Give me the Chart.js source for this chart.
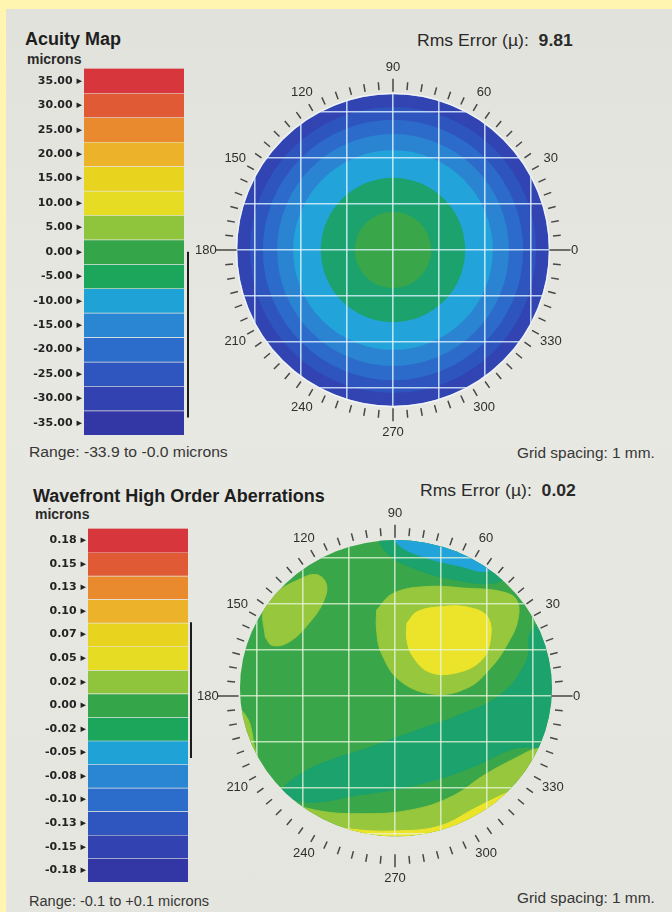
<!DOCTYPE html>
<html>
<head>
<meta charset="utf-8">
<script src="https://cdn.jsdelivr.net/npm/chart.js@4.4.1/dist/chart.umd.min.js"></script>
<style>
  html, body { margin: 0; padding: 0; }
  body { width: 672px; height: 912px; background: #fff5b0; position: relative; overflow: hidden;
         font-family: "Liberation Sans", Arial, sans-serif; color: #262626; }
  #paper { position: absolute; left: 6px; top: 9px; right: 0; bottom: 0;
           background: linear-gradient(180deg, #e2e2dc 0%, #e8e8e2 45%, #e5e5df 100%); }
  .t { position: absolute; white-space: nowrap; line-height: 1; transform-origin: 0 0; }
  .title { font-weight: bold; font-size: 18px; color: #1e1e1e; }
  .unit { font-weight: bold; font-size: 14px; color: #2a2a2a; }
  .rms { font-size: 16px; color: #2a2a2a; transform: scaleX(1.1); }
  .small { font-size: 14px; color: #363636; }
  canvas { position: absolute; }
</style>
</head>
<body>
<div id="paper"></div>

<div class="t title" style="left:25px;top:30px">Acuity Map</div>
<div class="t unit" style="left:27px;top:52px">microns</div>
<div class="t rms" style="left:417px;top:33px">Rms Error (µ):&nbsp; <b>9.81</b></div>
<div class="t small" style="left:29px;top:445px;transform:scaleX(1.12)">Range: -33.9 to -0.0 microns</div>
<div class="t small" style="left:517px;top:446px;transform:scaleX(1.1)">Grid spacing: 1 mm.</div>

<div class="t title" style="left:33px;top:487px">Wavefront High Order Aberrations</div>
<div class="t rms" style="left:420px;top:483px">Rms Error (µ):&nbsp; <b>0.02</b></div>
<div class="t unit" style="left:35px;top:507px">microns</div>
<div class="t small" style="left:29px;top:894px;transform:scaleX(1.04)">Range: -0.1 to +0.1 microns</div>
<div class="t small" style="left:517px;top:891px;transform:scaleX(1.1)">Grid spacing: 1 mm.</div>

<canvas id="acuityBar" width="180" height="385" style="left:20px;top:60px"></canvas>
<canvas id="acuityMap" width="450" height="390" style="left:168px;top:55px"></canvas>
<canvas id="hoaBar" width="180" height="372" style="left:24px;top:520px"></canvas>
<canvas id="hoaMap" width="450" height="390" style="left:170px;top:501px"></canvas>

<script>
// ---- colour scale levels (band centres) and their printed labels
const acuityLevels = [35, 30, 25, 20, 15, 10, 5, 0, -5, -10, -15, -20, -25, -30, -35];
const acuityLabels = ['35.00', '30.00', '25.00', '20.00', '15.00', '10.00', '5.00', '0.00',
                      '-5.00', '-10.00', '-15.00', '-20.00', '-25.00', '-30.00', '-35.00'];
const acuityRange = [-33.9, -0.0];

const hoaLevels = [0.175, 0.15, 0.125, 0.1, 0.075, 0.05, 0.025, 0, -0.025, -0.05, -0.075, -0.1, -0.125, -0.15, -0.175];
const hoaLabels = ['0.18', '0.15', '0.13', '0.10', '0.07', '0.05', '0.02', '0.00',
                   '-0.02', '-0.05', '-0.08', '-0.10', '-0.13', '-0.15', '-0.18'];
const hoaRange = [-0.056, 0.088];

// bar colours, and the slightly different print tones of the same bands inside the maps
const PALETTE = ['#d7363d', '#e05b35', '#e98a2e', '#ecb229', '#e8d31f', '#e6dc24', '#8fc53d', '#35a549',
                 '#1ba65c', '#1fa2d6', '#2a86d3', '#2c6dcb', '#2f55be', '#3242b0', '#3337a6'];
const MAP_PALETTE = ['#d7363d', '#e05b35', '#e98a2e', '#ecb229', '#e8d31f', '#ece42a', '#96c73c', '#3aa64a',
                     '#1ca26c', '#22a4da', '#2a84d2', '#2c6bca', '#2e54bd', '#3144b2', '#3337a6'];

// ---- acuity map: concentric zones (outer radius in mm, level)
const acuityRingRadius = [3.11, 2.83, 2.52, 2.17, 1.57, 0.83];
const acuityRingLevel  = [-25, -20, -15, -10, -5, 0];
const acuityPupil = { cx: 0, cy: 0, rx: 3.39, ry: 3.39, level: -30 };

// ---- high order map: contour zones (mm, x right / y up), listed back to front
const hoaPupil = { cx: 0.02, cy: 0.17, rx: 3.39, ry: 3.22, level: 0 };
const hoaDiagonalTeal = [[3.63, 1.87], [2.97, 1.43], [2.86, 0.77], [2.31, 0.04], [1.43, -0.40], [0.40, -0.77],
  [-0.62, -1.14], [-1.50, -1.43], [-2.09, -1.72], [-2.45, -2.09], [-1.87, -2.31], [-0.84, -2.16],
  [0.11, -2.01], [0.99, -1.79], [1.79, -1.50], [2.60, -1.14], [3.63, -0.99]];
const hoaTopTeal = [[0.11, 3.99], [-0.33, 3.55], [-0.18, 3.11], [0.48, 2.75], [1.28, 2.53], [2.09, 2.45],
  [2.53, 2.67], [2.75, 3.19], [2.31, 3.85]];
const hoaTopCyan = [[0.84, 3.85], [-0.04, 3.55], [0.11, 3.26], [0.70, 3.00], [1.43, 2.82], [1.94, 2.71],
  [2.23, 2.86], [2.16, 3.41]];
const hoaLowerGreenYellow = [[-3.85, -3.77], [-3.85, -0.11], [-3.26, -0.40], [-3.00, -1.28], [-2.62, -2.09],
  [-1.87, -2.45], [-0.62, -2.56], [0.48, -2.45], [1.28, -2.16], [1.94, -1.72], [2.60, -1.36],
  [3.11, -1.14], [3.77, -1.14], [3.77, -3.77]];
const hoaLowerYellow = [[-3.85, -3.77], [-3.85, -0.77], [-3.30, -0.99], [-3.11, -1.94], [-2.45, -2.64],
  [-0.99, -2.89], [0.11, -2.93], [0.99, -2.82], [1.72, -2.45], [2.31, -2.16], [2.82, -1.94],
  [3.33, -1.72], [3.77, -1.72], [3.77, -3.77]];
const hoaUpperLeftBlob = [[-2.82, 1.28], [-2.86, 1.87], [-2.60, 2.23], [-2.09, 2.53], [-1.72, 2.64],
  [-1.50, 2.45], [-1.54, 2.09], [-1.87, 1.58], [-2.31, 1.17], [-2.67, 1.10]];
const hoaRightOuter = [[-0.40, 1.87], [-0.04, 2.23], [0.70, 2.38], [1.58, 2.34], [2.31, 2.27], [2.64, 2.09],
  [2.67, 1.65], [2.45, 1.14], [2.09, 0.62], [1.58, 0.18], [0.84, 0.04], [0.11, 0.33], [-0.29, 0.92], [-0.40, 1.43]];
const hoaRightInner = [[0.26, 1.58], [0.48, 1.83], [0.99, 1.94], [1.58, 1.93], [2.01, 1.72], [2.07, 1.21],
  [1.87, 0.77], [1.36, 0.51], [0.77, 0.51], [0.40, 0.84], [0.26, 1.21]];

const hoaZones = [
  { pts: hoaDiagonalTeal, level: -0.025 },
  { pts: hoaTopTeal, level: -0.025 },
  { pts: hoaTopCyan, level: -0.05 },
  { pts: hoaLowerGreenYellow, level: 0.025 },
  { pts: hoaLowerYellow, level: 0.05 },
  { pts: hoaUpperLeftBlob, level: 0.025 },
  { pts: hoaRightOuter, level: 0.025 },
  { pts: hoaRightInner, level: 0.05 },
];

const gridMm = [-3, -2, -1, 0, 1, 2, 3];
const angleLabels = [0, 30, 60, 90, 120, 150, 180, 210, 240, 270, 300, 330];
const ringTickStep = 5;
const VIEW_X = 4.891, VIEW_Y = 4.239;   // half extents of a map canvas in mm

const mapColor = (levels, v) => MAP_PALETTE[levels.indexOf(v)];

// vertical range marker right of the colour bar
const rangeBarPlugin = {
  id: 'rangeBar',
  afterDraw(chart, args, o) {
    const { ctx, chartArea, scales: { y } } = chart;
    const x = chartArea.right + o.gap;
    ctx.save();
    ctx.strokeStyle = '#1c1c1c';
    ctx.lineWidth = 2;
    ctx.beginPath();
    ctx.moveTo(x, y.getPixelForValue(o.max));
    ctx.lineTo(x, y.getPixelForValue(o.min));
    ctx.stroke();
    ctx.restore();
  }
};

function colorBar(id, levels, labels, range, gap) {
  const step = Math.abs(levels[0] - levels[1]);
  return new Chart(document.getElementById(id), {
    type: 'bar',
    data: {
      labels: [''],
      datasets: levels.map((v, i) => ({
        data: [[v - step / 2, v + step / 2]],
        backgroundColor: PALETTE[i],
        borderColor: 'rgba(236,236,230,0.5)',
        borderWidth: { top: i === 0 ? 0 : 1, bottom: 0, left: 0, right: 0 },
        borderSkipped: false,
        grouped: false,
        barPercentage: 1,
        categoryPercentage: 1,
      })),
    },
    options: {
      responsive: false, animation: false, events: [],
      layout: { padding: { top: 8, bottom: 10, right: 16, left: 0 } },
      plugins: { legend: { display: false }, tooltip: { enabled: false },
                 rangeBar: { min: range[0], max: range[1], gap } },
      scales: {
        x: { display: false },
        y: {
          min: levels[levels.length - 1] - step / 2,
          max: levels[0] + step / 2,
          grid: { display: false, drawTicks: false },
          border: { display: false },
          afterBuildTicks: s => { s.ticks = levels.map(v => ({ value: v })); },
          afterFit: s => { s.width = 64; },
          ticks: {
            autoSkip: false, padding: 2, color: '#232323',
            font: { family: 'DejaVu Sans', weight: 'bold', size: 11 },
            callback: (v, i) => labels[i] + ' \u25B8',
          },
        },
      },
    },
    plugins: [rangeBarPlugin],
  });
}

// pupil clip + base colour, then polar tick ring and angle labels
const mapFramePlugin = {
  id: 'mapFrame',
  beforeDatasetsDraw(chart, args, o) {
    const { ctx, scales: { x, y } } = chart;
    const p = o.pupil;
    const cx = x.getPixelForValue(p.cx), cy = y.getPixelForValue(p.cy);
    const rx = x.getPixelForValue(p.cx + p.rx) - cx, ry = cy - y.getPixelForValue(p.cy + p.ry);
    ctx.save();
    ctx.beginPath();
    ctx.ellipse(cx, cy, rx, ry, 0, 0, Math.PI * 2);
    ctx.clip();
    ctx.fillStyle = o.base;
    ctx.fillRect(cx - rx - 2, cy - ry - 2, 2 * rx + 4, 2 * ry + 4);
  },
  afterDraw(chart, args, o) {
    const { ctx, scales: { x, y } } = chart;
    ctx.restore();
    const p = o.pupil;
    const pcx = x.getPixelForValue(p.cx), pcy = y.getPixelForValue(p.cy);
    const prx = x.getPixelForValue(p.cx + p.rx) - pcx, pry = pcy - y.getPixelForValue(p.cy + p.ry);
    if (o.rim) {
      ctx.save();
      ctx.strokeStyle = o.rim;
      ctx.lineWidth = 1.5;
      ctx.beginPath();
      ctx.ellipse(pcx, pcy, prx + 0.5, pry + 0.5, 0, 0, Math.PI * 2);
      ctx.stroke();
      ctx.restore();
    }
    const cx = x.getPixelForValue(0), cy = y.getPixelForValue(0);
    const k = x.getPixelForValue(1) - cx;
    ctx.save();
    ctx.strokeStyle = '#474747';
    ctx.lineWidth = 1.5;
    ctx.beginPath();
    for (let a = 0; a < 360; a += ringTickStep) {
      const t = a * Math.PI / 180;
      let r0 = 3.49, r1 = 3.66;
      if (a % 180 === 0) { r0 = 3.40; r1 = 3.86; }
      else if (a % 90 === 0) { r0 = 3.44; r1 = 3.72; }
      ctx.moveTo(cx + r0 * k * Math.cos(t), cy - r0 * k * Math.sin(t));
      ctx.lineTo(cx + r1 * k * Math.cos(t), cy - r1 * k * Math.sin(t));
    }
    ctx.stroke();
    ctx.fillStyle = '#2e2e2e';
    ctx.font = '13px "Liberation Sans", Arial, sans-serif';
    ctx.textAlign = 'center';
    ctx.textBaseline = 'middle';
    angleLabels.forEach(a => {
      const t = a * Math.PI / 180;
      const r = (a === 180 ? 4.07 : a === 0 ? 3.95 : 3.96) * k;
      ctx.fillText(String(a), cx + r * Math.cos(t), cy - r * Math.sin(t));
    });
    ctx.restore();
  }
};

function mapScales(gridColor) {
  const axis = (view) => ({
    type: 'linear', min: -view, max: view,
    afterBuildTicks: s => { s.ticks = gridMm.map(v => ({ value: v })); },
    grid: { color: gridColor, lineWidth: 1.6, drawTicks: false, z: 1 },
    border: { display: false },
    ticks: { display: false },
  });
  return { x: axis(VIEW_X), y: axis(VIEW_Y) };
}

// acuity map: one point per zone, sized through the x scale
new Chart(document.getElementById('acuityMap'), {
  type: 'scatter',
  data: {
    datasets: [{
      data: acuityRingRadius.map(() => ({ x: 0, y: 0 })),
      pointRadius: c => {
        const s = c.chart.scales.x;
        return s.getPixelForValue(acuityRingRadius[c.dataIndex]) - s.getPixelForValue(0);
      },
      pointBackgroundColor: c => mapColor(acuityLevels, acuityRingLevel[c.dataIndex]),
      pointBorderWidth: 0,
      pointBorderColor: 'rgba(0,0,0,0)',
    }],
  },
  options: {
    responsive: false, animation: false, events: [],
    plugins: { legend: { display: false }, tooltip: { enabled: false },
               mapFrame: { pupil: acuityPupil, base: mapColor(acuityLevels, acuityPupil.level), rim: 'rgba(245,250,255,0.75)' } },
    scales: mapScales('rgba(225,244,255,0.8)'),
  },
  plugins: [mapFramePlugin],
});

// high order aberration map: closed contour zones
new Chart(document.getElementById('hoaMap'), {
  type: 'scatter',
  data: {
    datasets: hoaZones.map((z, i) => {
      const pts = z.pts.map(([x, y]) => ({ x, y }));
      pts.push({ ...pts[0] });
      const col = mapColor(hoaLevels, z.level);
      return {
        type: 'line',
        order: hoaZones.length - i,   // chart.js paints higher order first
        data: pts,
        backgroundColor: col,
        borderColor: col,
        borderWidth: 1,
        fill: 'shape',
        tension: 0.4,
        pointRadius: 0,
      };
    }),
  },
  options: {
    responsive: false, animation: false, events: [],
    plugins: { legend: { display: false }, tooltip: { enabled: false },
               mapFrame: { pupil: hoaPupil, base: mapColor(hoaLevels, hoaPupil.level), rim: null } },
    scales: mapScales('rgba(232,246,220,0.75)'),
  },
  plugins: [mapFramePlugin],
});

colorBar('acuityBar', acuityLevels, acuityLabels, acuityRange, 4);
colorBar('hoaBar', hoaLevels, hoaLabels, hoaRange, 3);
</script>
</body>
</html>
